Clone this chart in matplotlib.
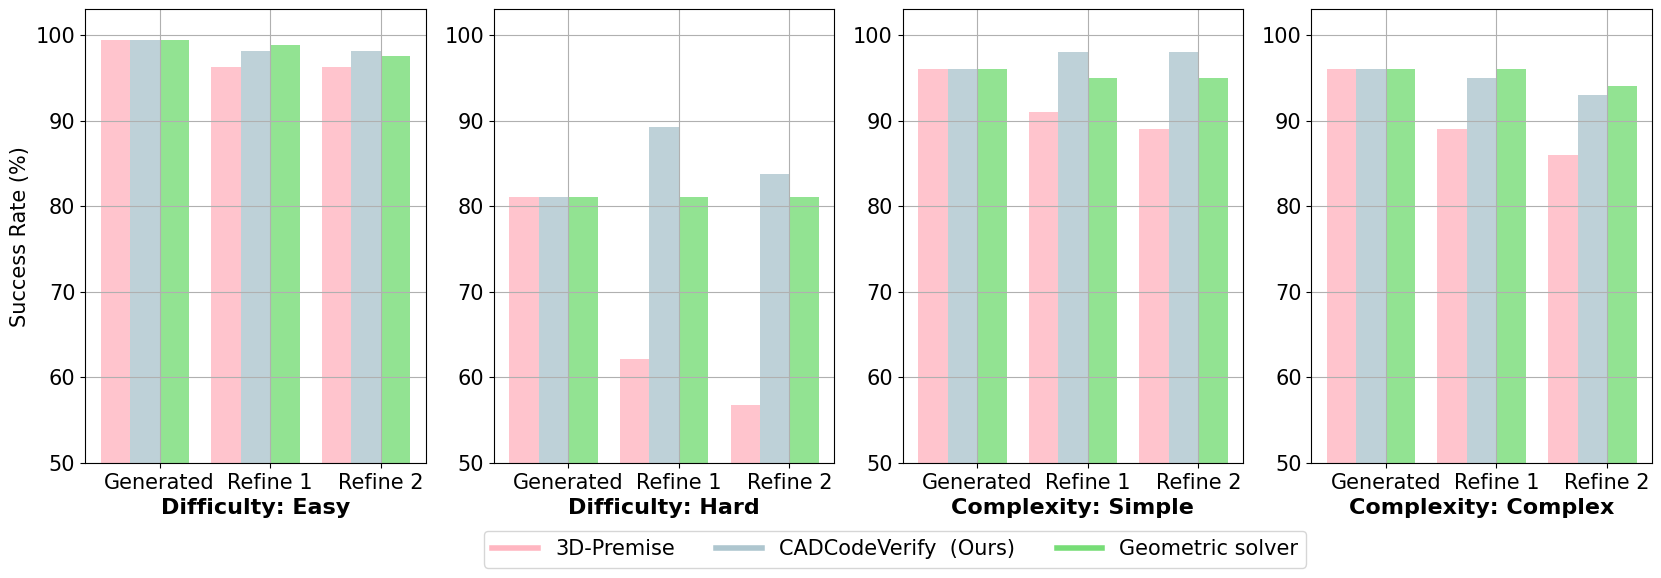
import matplotlib
matplotlib.use("Agg")
import matplotlib.pyplot as plt
from matplotlib.lines import Line2D
import numpy as np

stages = ["Generated", "Refine 1", "Refine 2"]
panel_titles = ["Difficulty: Easy", "Difficulty: Hard", "Complexity: Simple", "Complexity: Complex"]
methods = ["3D-Premise", "CADCodeVerify  (Ours)", "Geometric solver"]
colors = ["#FFB6C1", "#AEC6CF", "#77DD77"]

premise = [
    [99.4, 96.3, 96.3],
    [81.1, 62.2, 56.8],
    [96.0, 91.0, 89.0],
    [96.0, 89.0, 86.0],
]
cadcodeverify = [
    [99.4, 98.1, 98.1],
    [81.1, 89.2, 83.8],
    [96.0, 98.0, 98.0],
    [96.0, 95.0, 93.0],
]
geometric = [
    [99.4, 98.8, 97.5],
    [81.1, 81.1, 81.1],
    [96.0, 95.0, 95.0],
    [96.0, 96.0, 94.0],
]

fig, axes = plt.subplots(1, 4, figsize=(16.61, 5.78), dpi=100)
fig.subplots_adjust(left=0.0512, right=0.9946, top=0.984, bottom=0.199, wspace=0.2)

x = np.arange(len(stages))
w = 0.8 / 3
series = [premise, cadcodeverify, geometric]
for i, ax in enumerate(axes):
    for j, data in enumerate(series):
        ax.bar(x + (j - 2) * w, data[i], w, align="edge", color=colors[j], alpha=0.8)
    ax.set_xticks(x)
    ax.set_xticklabels(stages)
    ax.set_ylim(50, 103)
    ax.set_yticks([50, 60, 70, 80, 90, 100])
    ax.tick_params(labelsize=15)
    ax.grid(True)
    ax.set_xlabel(panel_titles[i], fontsize=16, fontweight="bold")
axes[0].set_ylabel("Success Rate (%)", fontsize=15)

handles = [Line2D([0], [0], color=c, lw=4) for c in colors]
fig.legend(handles, methods, loc="lower center", ncol=3, fontsize=15,
           bbox_to_anchor=(0.539, 0.0), handlelength=2.2)

fig.savefig("out.png", dpi=100)
